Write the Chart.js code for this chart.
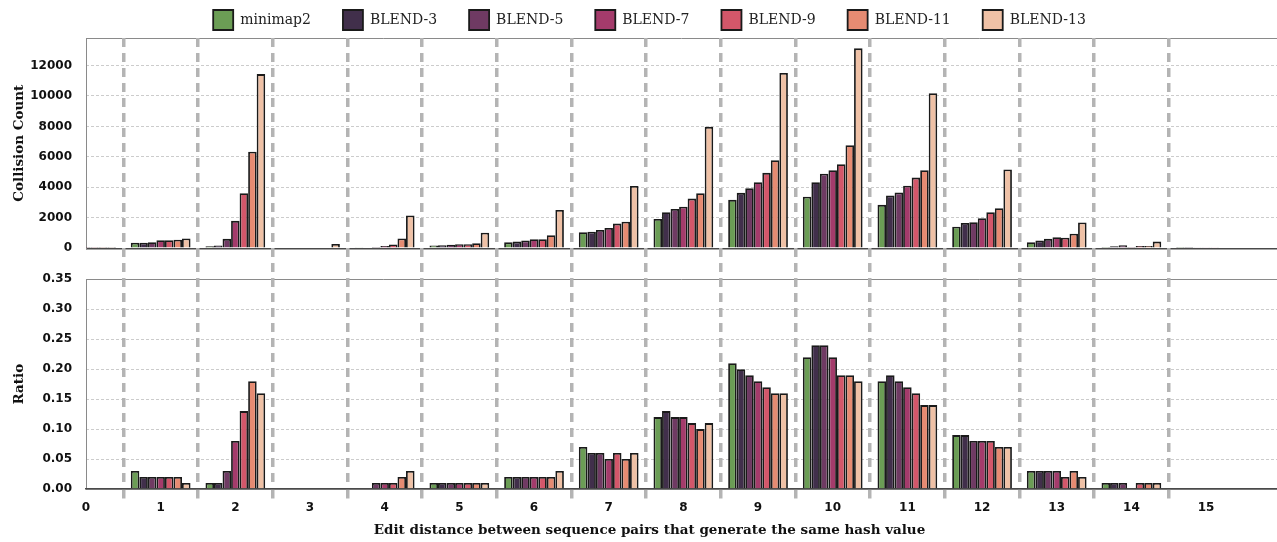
<!DOCTYPE html>
<html>
<head>
<meta charset="utf-8">
<script src="https://cdn.jsdelivr.net/npm/chart.js@4/dist/chart.umd.min.js"></script>
<style>
  html, body { margin: 0; padding: 0; background: #ffffff; }
  canvas { display: block; }
</style>
</head>
<body>
<canvas id="chart" width="1277" height="542"></canvas>
<script>
// ---------------- data ----------------
const categories = [0, 1, 2, 3, 4, 5, 6, 7, 8, 9, 10, 11, 12, 13, 14, 15];
const seriesNames = ['minimap2', 'BLEND-3', 'BLEND-5', 'BLEND-7', 'BLEND-9', 'BLEND-11', 'BLEND-13'];

// Collision count (top panel)
const countMinimap2 = [20, 360, 130, 50, 30, 190, 390, 1050, 1930, 3180, 3390, 2850, 1420, 400, 90, 20];
const countBlend3   = [20, 360, 180, 50, 50, 200, 440, 1090, 2370, 3640, 4340, 3460, 1660, 510, 130, 20];
const countBlend5   = [20, 400, 620, 60, 90, 240, 520, 1200, 2580, 3940, 4900, 3660, 1710, 620, 200, 30];
const countBlend7   = [20, 530, 1800, 60, 150, 270, 600, 1330, 2730, 4340, 5120, 4110, 1970, 730, 90, 30];
const countBlend9   = [20, 530, 3610, 50, 250, 270, 600, 1620, 3260, 4950, 5520, 4640, 2370, 690, 150, 30];
const countBlend11  = [20, 560, 6340, 60, 640, 330, 860, 1750, 3610, 5780, 6770, 5120, 2630, 950, 150, 50];
const countBlend13  = [20, 650, 11430, 290, 2150, 1020, 2520, 4090, 7970, 11500, 13120, 10180, 5170, 1690, 440, 50];

// Ratio (bottom panel)
const ratioMinimap2 = [0, 0.03, 0.01, 0, 0, 0.01, 0.02, 0.07, 0.12, 0.21, 0.22, 0.18, 0.09, 0.03, 0.01, 0];
const ratioBlend3   = [0, 0.02, 0.01, 0, 0, 0.01, 0.02, 0.06, 0.13, 0.20, 0.24, 0.19, 0.09, 0.03, 0.01, 0];
const ratioBlend5   = [0, 0.02, 0.03, 0, 0.01, 0.01, 0.02, 0.06, 0.12, 0.19, 0.24, 0.18, 0.08, 0.03, 0.01, 0];
const ratioBlend7   = [0, 0.02, 0.08, 0, 0.01, 0.01, 0.02, 0.05, 0.12, 0.18, 0.22, 0.17, 0.08, 0.03, 0, 0];
const ratioBlend9   = [0, 0.02, 0.13, 0, 0.01, 0.01, 0.02, 0.06, 0.11, 0.17, 0.19, 0.16, 0.08, 0.02, 0.01, 0];
const ratioBlend11  = [0, 0.02, 0.18, 0, 0.02, 0.01, 0.02, 0.05, 0.10, 0.16, 0.19, 0.14, 0.07, 0.03, 0.01, 0];
const ratioBlend13  = [0, 0.01, 0.16, 0, 0.03, 0.01, 0.03, 0.06, 0.11, 0.16, 0.18, 0.14, 0.07, 0.02, 0.01, 0];

// tick labels
const countTicks = [0, 2000, 4000, 6000, 8000, 10000, 12000];
const countMax = 13800;
const ratioTicks = [0, 0.05, 0.10, 0.15, 0.20, 0.25, 0.30, 0.35];
const xMax = 15.95;

// ---------------- styles ----------------
const barColors = ['#6b9d55', '#412f4b', '#6f3a63', '#a43b6b', '#d3576a', '#e68b72', '#efc1a6'];
const barBorder = '#1a1a1a';
const tickFont = { family: 'DejaVu Sans', size: 12, weight: 'bold' };
const titleFont = { family: 'DejaVu Serif', size: 13.5, weight: 'bold' };

const countSeries = [countMinimap2, countBlend3, countBlend5, countBlend7, countBlend9, countBlend11, countBlend13];
const ratioSeries = [ratioMinimap2, ratioBlend3, ratioBlend5, ratioBlend7, ratioBlend9, ratioBlend11, ratioBlend13];

const datasets = [];
seriesNames.forEach((name, i) => {
  datasets.push({
    label: name,
    data: categories.map((c, j) => ({ x: c, y: countSeries[i][j] })),
    xAxisID: 'x', yAxisID: 'yTop', stack: 's' + i,
    backgroundColor: barColors[i], borderColor: barBorder, borderWidth: 1.8,
    categoryPercentage: 0.8, barPercentage: 1.0
  });
});
seriesNames.forEach((name, i) => {
  datasets.push({
    label: name,
    data: categories.map((c, j) => ({ x: c, y: ratioSeries[i][j] })),
    xAxisID: 'x', yAxisID: 'yBot', stack: 's' + i,
    backgroundColor: barColors[i], borderColor: barBorder, borderWidth: 1.8,
    categoryPercentage: 0.8, barPercentage: 1.0
  });
});

function hGridColor(maxVal) {
  return ctx => {
    if (!ctx.tick) return 'rgba(0,0,0,0)';
    if (ctx.tick.value === 0) return '#4a4a4a';
    if (ctx.tick.value === maxVal) return '#8a8a8a';
    return '#cccccc';
  };
}
function hGridDash(maxVal) {
  return ctx => (ctx.tick && ctx.tick.value !== 0 && ctx.tick.value !== maxVal) ? [3, 2] : [];
}
function hGridWidth(ctx) {
  return ctx.tick && ctx.tick.value === 0 ? 1.5 : 1;
}

const vColor = ctx => ctx.tick ? '#b4b4b4' : 'rgba(0,0,0,0)';

new Chart(document.getElementById('chart'), {
  type: 'bar',
  data: { datasets },
  options: {
    responsive: false,
    maintainAspectRatio: false,
    animation: false,
    devicePixelRatio: 1,
    events: [],
    layout: { padding: { top: -22, left: 22, right: 0, bottom: 0 } },
    plugins: {
      tooltip: { enabled: false },
      legend: {
        position: 'top',
        align: 'center',
        maxHeight: 60,
        labels: {
          boxWidth: 20, boxHeight: 20, padding: 32,
          color: '#222',
          font: { family: 'DejaVu Serif', size: 14 },
          filter: item => item.datasetIndex < seriesNames.length
        }
      },
      title: {
        display: true,
        position: 'bottom',
        text: 'Edit distance between sequence pairs that generate the same hash value',
        color: '#111',
        font: titleFont,
        padding: { top: 3.6, bottom: 3.2 }
      }
    },
    scales: {
      yBot: {
        type: 'linear', position: 'left', stack: 'panels', stackWeight: 209.7, weight: 1,
        min: 0, max: ratioTicks[ratioTicks.length - 1], stacked: false,
        afterBuildTicks: s => { s.ticks = ratioTicks.map(v => ({ value: v })); },
        afterFit: s => { s.width = 64; },
        ticks: { callback: v => Number(v).toFixed(2), font: tickFont, color: '#111', padding: 14 },
        grid: { drawTicks: false, color: hGridColor(ratioTicks[ratioTicks.length - 1]), lineWidth: hGridWidth },
        border: { display: true, color: '#8a8a8a', width: 1, dash: hGridDash(ratioTicks[ratioTicks.length - 1]) },
        title: { display: true, text: 'Ratio', font: titleFont, color: '#111', padding: { top: -11, bottom: 0 } }
      },
      ySp: {
        type: 'linear', position: 'left', stack: 'panels', stackWeight: 31, weight: 2,
        min: 0, max: 1,
        afterFit: s => { s.width = 64; },
        ticks: { display: false },
        grid: { display: false, drawTicks: false },
        border: { display: false }
      },
      yTop: {
        type: 'linear', position: 'left', stack: 'panels', stackWeight: 210.3, weight: 3,
        min: 0, max: countMax, stacked: false,
        afterBuildTicks: s => { s.ticks = countTicks.concat([countMax]).map(v => ({ value: v })); },
        afterFit: s => { s.width = 64; },
        ticks: { callback: v => (v === countMax ? '' : String(v)), font: tickFont, color: '#111', padding: 14 },
        grid: { drawTicks: false, color: hGridColor(countMax), lineWidth: hGridWidth },
        border: { display: true, color: '#8a8a8a', width: 1, dash: hGridDash(countMax) },
        title: { display: true, text: 'Collision Count', font: titleFont, color: '#111', padding: { top: -11, bottom: 0 } }
      },
      x: {
        type: 'linear', position: 'bottom', min: 0, max: xMax, offset: false,
        afterBuildTicks: s => { s.ticks = categories.map(v => ({ value: v })); },
        afterFit: s => { s.height = 30; },
        ticks: { callback: v => String(v), font: tickFont, color: '#111', padding: 1, maxRotation: 0, autoSkip: false },
        grid: {
          offset: true, color: vColor, lineWidth: 3.5,
          drawTicks: true, tickLength: 11, tickColor: vColor, tickWidth: 3.5, tickBorderDash: [9, 6]
        },
        border: { display: true, color: '#4a4a4a', width: 1.5, dash: [9, 6] }
      }
    }
  }
});
</script>
</body>
</html>
